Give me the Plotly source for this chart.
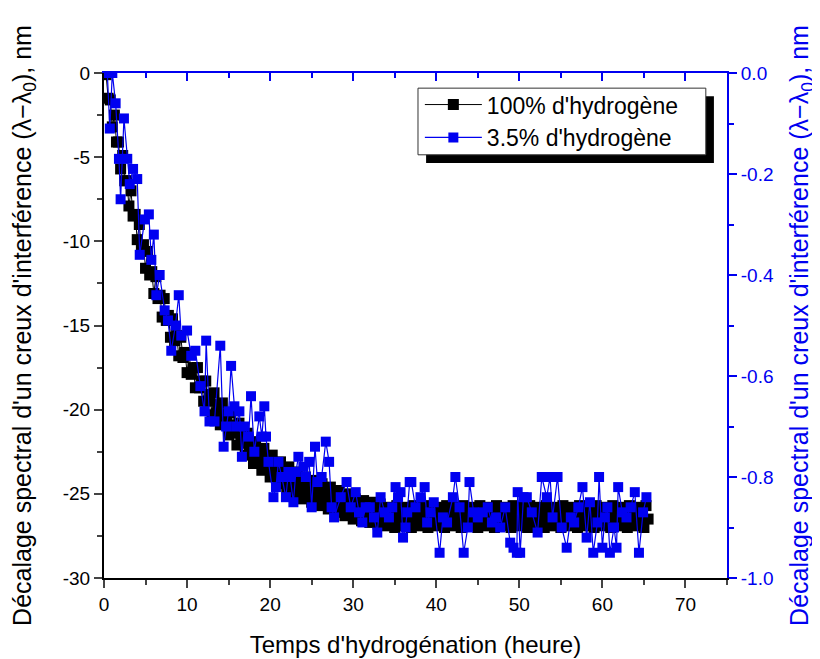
import plotly.graph_objects as go

# ── 100% hydrogen (left axis, nm) ────────────────────────────────────────────
hours_100 = [
    0.25, 0.5, 0.75, 1.0, 1.25, 1.5, 1.75, 2.0, 2.25, 2.5, 2.75, 3.0,
    3.25, 3.5, 3.75, 4.0, 4.25, 4.5, 4.75, 5.0, 5.25, 5.5, 5.75, 6.0,
    6.25, 6.5, 6.75, 7.0, 7.25, 7.5, 7.75, 8.0, 8.25, 8.5, 8.75, 9.0,
    9.25, 9.5, 9.75, 10.0, 10.25, 10.5, 10.75, 11.0, 11.25, 11.5, 11.75, 12.0,
    12.25, 12.5, 12.75, 13.0, 13.25, 13.5, 13.75, 14.0, 14.25, 14.5, 14.75, 15.0,
    15.25, 15.5, 15.75, 16.0, 16.25, 16.5, 16.75, 17.0, 17.25, 17.5, 17.75, 18.0,
    18.25, 18.5, 18.75, 19.0, 19.25, 19.5, 19.75, 20.0, 20.25, 20.5, 20.75, 21.0,
    21.25, 21.5, 21.75, 22.0, 22.25, 22.5, 22.75, 23.0, 23.25, 23.5, 23.75, 24.0,
    24.25, 24.5, 24.75, 25.0, 25.25, 25.5, 25.75, 26.0, 26.25, 26.5, 26.75, 27.0,
    27.25, 27.5, 27.75, 28.0, 28.25, 28.5, 28.75, 29.0, 29.25, 29.5, 29.75, 30.0,
    30.25, 30.5, 30.75, 31.0, 31.25, 31.5, 31.75, 32.0, 32.25, 32.5, 32.75, 33.0,
    33.25, 33.5, 33.75, 34.0, 34.25, 34.5, 34.75, 35.0, 35.25, 35.5, 35.75, 36.0,
    36.25, 36.5, 36.75, 37.0, 37.25, 37.5, 37.75, 38.0, 38.25, 38.5, 38.75, 39.0,
    39.25, 39.5, 39.75, 40.0, 40.25, 40.5, 40.75, 41.0, 41.25, 41.5, 41.75, 42.0,
    42.25, 42.5, 42.75, 43.0, 43.25, 43.5, 43.75, 44.0, 44.25, 44.5, 44.75, 45.0,
    45.25, 45.5, 45.75, 46.0, 46.25, 46.5, 46.75, 47.0, 47.25, 47.5, 47.75, 48.0,
    48.25, 48.5, 48.75, 49.0, 49.25, 49.5, 49.75, 50.0, 50.25, 50.5, 50.75, 51.0,
    51.25, 51.5, 51.75, 52.0, 52.25, 52.5, 52.75, 53.0, 53.25, 53.5, 53.75, 54.0,
    54.25, 54.5, 54.75, 55.0, 55.25, 55.5, 55.75, 56.0, 56.25, 56.5, 56.75, 57.0,
    57.25, 57.5, 57.75, 58.0, 58.25, 58.5, 58.75, 59.0, 59.25, 59.5, 59.75, 60.0,
    60.25, 60.5, 60.75, 61.0, 61.25, 61.5, 61.75, 62.0, 62.25, 62.5, 62.75, 63.0,
    63.25, 63.5, 63.75, 64.0, 64.25, 64.5, 64.75, 65.0, 65.25, 65.5,
]
shift_100 = [
    -0.1, -1.5, -1.6, -3.2, -2.5, -4.1, -4.1, -5.7, -4.9, -6.4, -6.4, -7.9,
    -7.0, -8.5, -8.4, -9.9, -9.0, -10.4, -10.2, -11.6, -10.6, -12.0, -11.8, -13.1,
    -12.1, -13.4, -13.2, -14.5, -13.4, -14.7, -14.4, -15.7, -14.6, -15.9, -15.6, -16.8,
    -15.7, -16.9, -16.6, -17.8, -16.7, -17.9, -17.5, -18.7, -17.5, -18.7, -18.3, -19.5,
    -18.3, -19.5, -19.1, -20.3, -19.0, -20.2, -19.7, -20.9, -19.6, -20.8, -20.3, -21.5,
    -20.2, -21.4, -20.9, -22.1, -20.8, -22.0, -21.5, -22.7, -21.4, -22.6, -22.1, -23.2,
    -21.9, -23.0, -22.5, -23.6, -22.3, -23.4, -22.9, -24.0, -22.7, -23.8, -23.3, -24.4,
    -23.1, -24.2, -23.7, -24.7, -23.4, -24.5, -24.0, -25.0, -23.7, -24.8, -24.3, -25.3,
    -24.0, -25.0, -24.5, -25.5, -24.2, -25.2, -24.7, -25.7, -24.4, -25.4, -24.9, -25.9,
    -24.6, -25.6, -25.1, -26.1, -24.8, -25.8, -25.3, -26.3, -25.0, -26.0, -25.5, -26.5,
    -25.3, -26.1, -25.8, -26.6, -25.4, -26.3, -25.9, -26.7, -25.5, -26.4, -26.0, -26.8,
    -25.6, -26.5, -26.1, -26.9, -25.8, -26.6, -26.2, -27.0, -25.7, -26.5, -26.1, -26.9,
    -25.8, -26.6, -26.2, -27.0, -25.7, -26.5, -26.1, -26.9, -25.8, -26.6, -26.2, -27.0,
    -25.7, -26.5, -26.1, -26.9, -25.8, -26.6, -26.2, -27.0, -25.7, -26.5, -26.1, -26.9,
    -25.8, -26.6, -26.2, -27.0, -25.7, -26.5, -26.1, -26.9, -25.8, -26.6, -26.2, -27.0,
    -25.7, -26.5, -26.1, -26.9, -25.8, -26.6, -26.2, -27.0, -25.7, -26.5, -26.1, -26.9,
    -25.8, -26.6, -26.2, -27.0, -25.7, -26.5, -26.1, -26.9, -25.8, -26.6, -26.2, -27.0,
    -25.7, -26.5, -26.1, -26.9, -25.8, -26.6, -26.2, -27.0, -25.7, -26.5, -26.1, -26.9,
    -25.8, -26.6, -26.2, -27.0, -25.7, -26.5, -26.1, -26.9, -25.8, -26.6, -26.2, -27.0,
    -25.7, -26.5, -26.1, -26.9, -25.8, -26.6, -26.2, -27.0, -25.7, -26.5, -26.1, -26.9,
    -25.8, -26.6, -26.2, -27.0, -25.7, -26.5, -26.1, -26.9, -25.8, -26.6, -26.2, -27.0,
    -25.7, -26.5, -26.1, -26.9, -25.8, -26.6, -26.2, -27.0, -25.7, -26.5,
]

# ── 3.5% hydrogen (right axis, nm) ───────────────────────────────────────────
hours_35 = [
    0.4, 0.7, 1.0, 1.4, 1.8, 2.0, 2.4, 2.8, 3.1, 3.5, 4.0, 4.3, 4.9, 5.4, 5.7, 6.0,
    6.3, 6.7, 7.3, 7.7, 8.1, 8.6, 9.0, 9.3, 10.0, 10.5, 11.0, 11.6, 12.1, 12.3, 12.7,
    13.3, 14.0, 14.4, 14.7, 15.0, 15.3, 15.7, 15.9, 16.3, 16.6, 16.9, 17.4, 17.7,
    18.1, 18.7, 19.0, 19.3, 19.5, 19.8, 20.4, 20.7, 21.0, 21.4, 21.9, 22.2, 22.4,
    22.8, 23.1, 23.4, 24.0, 24.3, 24.7, 25.0, 25.4, 25.7, 26.2, 26.7, 27.1, 27.4,
    27.7, 28.5, 29.2, 29.7, 30.3, 30.7, 31.1, 31.5, 32.0, 32.5, 32.9, 33.3, 33.8,
    34.3, 34.7, 35.1, 35.4, 35.7, 36.0, 36.3, 36.5, 36.8, 37.0, 37.5, 38.1, 38.6,
    38.9, 39.3, 39.7, 40.4, 40.8, 41.3, 42.0, 42.3, 42.8, 43.3, 43.8, 44.0, 44.5,
    45.0, 45.6, 46.2, 46.7, 47.2, 47.7, 48.3, 48.9, 49.3, 49.7, 49.8, 50.1, 50.5,
    50.9, 51.5, 52.2, 52.7, 53.3, 53.7, 54.0, 54.6, 55.1, 55.7, 56.2, 56.6, 57.1,
    57.6, 58.1, 58.5, 58.9, 59.4, 59.6, 60.0, 60.3, 60.6, 60.9, 61.4, 61.7, 61.9,
    62.4, 62.9, 63.4, 63.9, 64.4, 64.9, 65.3,
]
shift_35 = [
    -0.00, -0.11, -0.00, -0.06, -0.17, -0.25, -0.09, -0.17, -0.22, -0.19, -0.21,
    -0.36, -0.29, -0.28, -0.37, -0.32, -0.44, -0.40, -0.47, -0.49, -0.55, -0.50,
    -0.44, -0.52, -0.51, -0.56, -0.55, -0.62, -0.67, -0.53, -0.69, -0.69, -0.54,
    -0.74, -0.70, -0.67, -0.58, -0.66, -0.70, -0.67, -0.76, -0.70, -0.72, -0.64,
    -0.75, -0.68, -0.72, -0.66, -0.72, -0.77, -0.84, -0.82, -0.77, -0.80, -0.84,
    -0.79, -0.80, -0.85, -0.79, -0.76, -0.78, -0.80, -0.77, -0.86, -0.74, -0.81,
    -0.80, -0.73, -0.77, -0.86, -0.88, -0.84, -0.81, -0.86, -0.83, -0.87, -0.89,
    -0.86, -0.86, -0.88, -0.91, -0.84, -0.87, -0.88, -0.86, -0.82, -0.84, -0.83,
    -0.92, -0.90, -0.87, -0.81, -0.81, -0.86, -0.84, -0.82, -0.89, -0.87, -0.85,
    -0.95, -0.88, -0.89, -0.84, -0.80, -0.86, -0.95, -0.90, -0.81, -0.87, -0.88,
    -0.87, -0.86, -0.89, -0.88, -0.90, -0.86, -0.93, -0.94, -0.95, -0.83, -0.95,
    -0.84, -0.84, -0.87, -0.91, -0.80, -0.84, -0.80, -0.88, -0.80, -0.90, -0.94,
    -0.88, -0.89, -0.86, -0.82, -0.92, -0.85, -0.95, -0.89, -0.80, -0.94, -0.88,
    -0.86, -0.95, -0.90, -0.94, -0.82, -0.87, -0.88, -0.86, -0.83, -0.95, -0.87,
    -0.84,
]

# ── Tick labels ──────────────────────────────────────────────────────────────
x_ticks = [0, 10, 20, 30, 40, 50, 60, 70]
left_ticks = [0, -5, -10, -15, -20, -25, -30]
left_labels = ["0", "-5", "-10", "-15", "-20", "-25", "-30"]
right_ticks = [0.0, -0.2, -0.4, -0.6, -0.8, -1.0]
right_labels = ["0.0", "-0.2", "-0.4", "-0.6", "-0.8", "-1.0"]

BLUE = "#0000F0"
FONT = "Arial, Liberation Sans, sans-serif"
Y_TITLE = "Décalage spectral d'un creux d'interférence (λ−λ<sub>0</sub>), nm"

fig = go.Figure()
fig.add_trace(go.Scatter(
    x=hours_100, y=shift_100, name="100% d'hydrogène",
    mode="lines+markers",
    line=dict(color="black", width=1),
    marker=dict(symbol="square", size=11, color="black"),
))
fig.add_trace(go.Scatter(
    x=hours_35, y=shift_35, name="3.5% d'hydrogène", yaxis="y2",
    mode="lines+markers",
    line=dict(color=BLUE, width=1.2),
    marker=dict(symbol="square", size=10, color=BLUE),
))
# empty trace so the blue top frame axis exists
fig.add_trace(go.Scatter(x=[None], y=[None], xaxis="x2", showlegend=False,
                         hoverinfo="skip"))

# legend frame: black drop shadow, then white box with a thin border
fig.add_shape(type="rect", xref="paper", yref="paper",
              x0=0.517, x1=0.979, y0=0.822, y1=0.954,
              fillcolor="black", line_width=0, layer="above")
fig.add_shape(type="rect", xref="paper", yref="paper",
              x0=0.504, x1=0.966, y0=0.838, y1=0.970,
              fillcolor="white", line=dict(color="#333333", width=1), layer="above")

fig.update_layout(
    width=820, height=659,
    margin=dict(l=94, r=101, t=65, b=89),
    paper_bgcolor="white", plot_bgcolor="white",
    font=dict(family=FONT, size=19, color="black"),
    showlegend=True,
    legend=dict(
        x=0.507, y=0.980, xanchor="left", yanchor="top",
        bgcolor="rgba(0,0,0,0)", borderwidth=0,
        font=dict(size=23), itemwidth=57, tracegroupgap=0,
    ),
    xaxis=dict(
        range=[0, 75], tickvals=x_ticks, ticks="outside", ticklen=8, tickwidth=2,
        minor=dict(dtick=5, tick0=0, ticks="outside", ticklen=5, tickwidth=2),
        showline=True, linewidth=2, linecolor="black", showgrid=False, zeroline=False,
        title=dict(text="Temps d'hydrogénation (heure)", font=dict(size=24), standoff=22),
    ),
    xaxis2=dict(
        range=[0, 75], overlaying="x", side="top", anchor="y", matches="x",
        tickvals=x_ticks, ticks="inside", ticklen=8, tickwidth=2, tickcolor=BLUE,
        minor=dict(dtick=5, tick0=0, ticks="inside", ticklen=5, tickwidth=2, tickcolor=BLUE),
        showticklabels=False, showline=True, linewidth=2, linecolor=BLUE,
        showgrid=False, zeroline=False,
    ),
    yaxis=dict(
        range=[-30, 0], tickvals=left_ticks, ticktext=left_labels,
        ticks="outside", ticklen=8, tickwidth=2,
        minor=dict(dtick=2.5, tick0=0, ticks="outside", ticklen=5, tickwidth=2),
        showline=True, linewidth=2, linecolor="black", showgrid=False, zeroline=False,
        title=dict(text=Y_TITLE, font=dict(size=25), standoff=25),
    ),
    yaxis2=dict(
        range=[-1.0, 0.0], overlaying="y", side="right",
        tickvals=right_ticks, ticktext=right_labels,
        ticks="outside", ticklen=8, tickwidth=2, tickcolor=BLUE,
        minor=dict(dtick=0.1, tick0=0, ticks="outside", ticklen=5, tickwidth=2, tickcolor=BLUE),
        tickfont=dict(color=BLUE),
        showline=True, linewidth=2, linecolor=BLUE, showgrid=False, zeroline=False,
        title=dict(text=Y_TITLE, font=dict(size=25, color=BLUE), standoff=18),
    ),
)

fig.write_html("out.html")
